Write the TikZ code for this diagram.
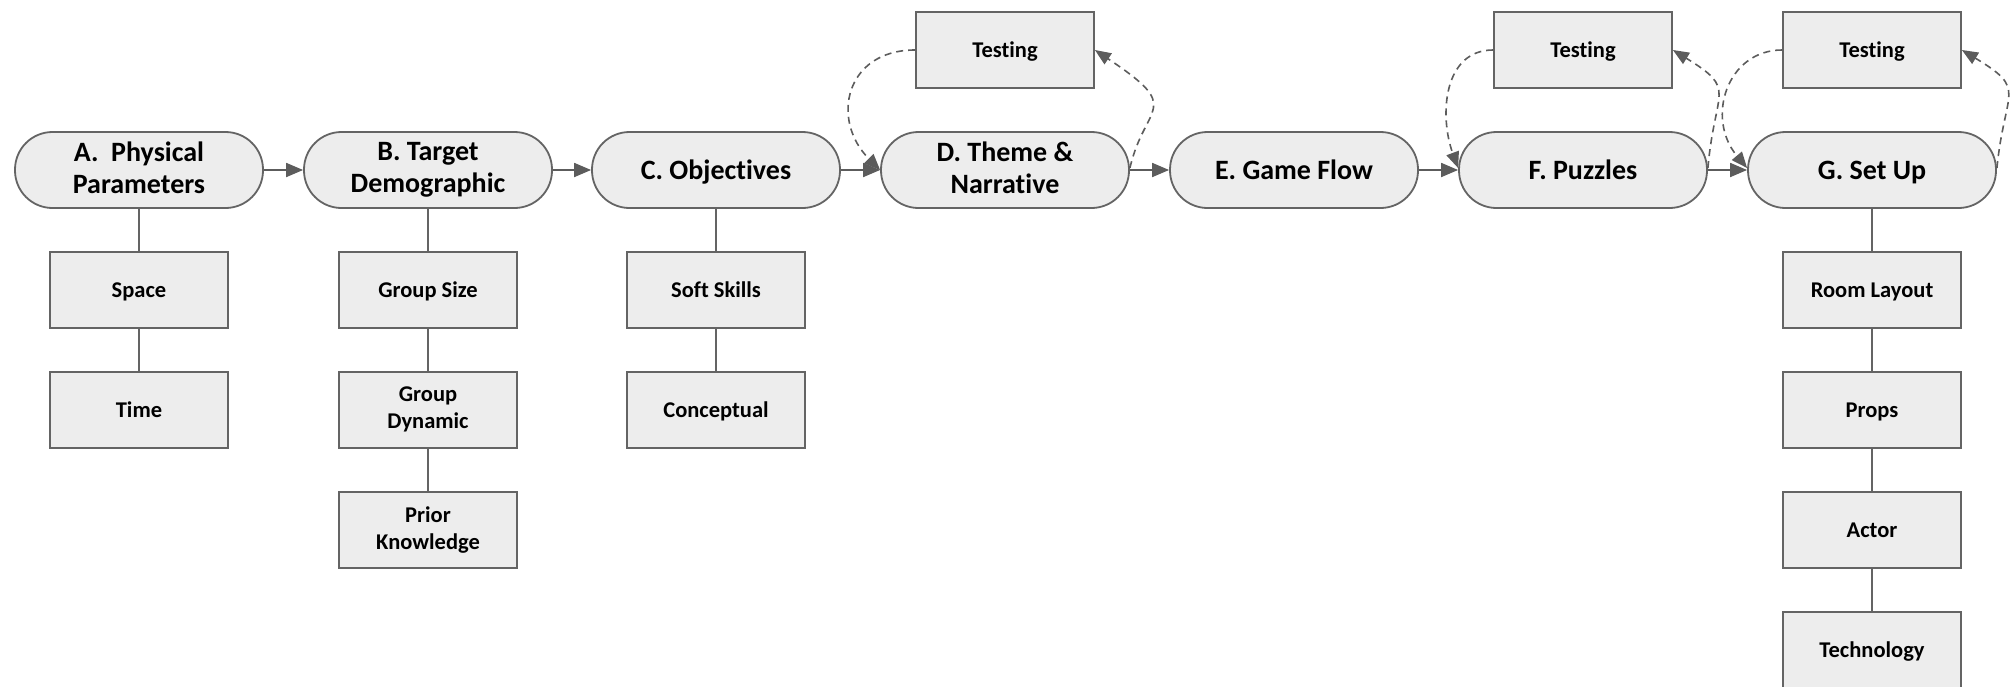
\documentclass[tikz,border=0pt]{standalone}
\usepackage{fontspec}
\setmainfont{Carlito}[Ligatures=NoCommon]
\usetikzlibrary{arrows.meta}
\definecolor{boxfill}{HTML}{EDEDED}
\definecolor{boxline}{HTML}{646464}
\definecolor{arrowline}{HTML}{5C5C5C}
% fixed line box so every label sits on the same optical centre
\newcommand\linestrut{\rule[-0.2em]{0pt}{1.1em}}
\begin{document}
\begin{tikzpicture}[x=1pt,y=1pt,
  boxtext/.style={inner sep=0pt, align=center,
    execute at begin node=\linestrut, execute at end node=\linestrut},
  stage/.style={boxtext, draw=boxline, fill=boxfill, line width=1.8pt,
    rounded corners=37.5pt, minimum width=248pt, minimum height=76pt,
    font=\bfseries\fontsize{28}{32}\selectfont},
  item/.style={boxtext, draw=boxline, fill=boxfill, line width=1.8pt,
    minimum width=178pt, minimum height=76pt,
    font=\bfseries\fontsize{22.5}{27}\selectfont},
  flow/.style={draw=arrowline, line width=1.8pt,
    -{Triangle[length=17pt,width=14pt]}},
  link/.style={draw=boxline, line width=1.8pt},
  loop/.style={draw=arrowline, line width=1.6pt, dash pattern=on 7pt off 5pt,
    -{Triangle[length=16pt,width=13pt]}}]
\useasboundingbox (0,0) rectangle (2013,-686);

% main stages
\node[stage] (A) at (139,-170) {A.\ \ Physical\\Parameters};
\node[stage] (B) at (428,-170) {B. Target\\Demographic};
\node[stage] (C) at (716,-170) {C. Objectives};
\node[stage] (D) at (1005,-170) {D. Theme \&\\Narrative};
\node[stage] (E) at (1294,-170) {E. Game Flow};
\node[stage] (F) at (1583,-170) {F. Puzzles};
\node[stage] (G) at (1872,-170) {G. Set Up};

% testing boxes
\node[item] (TD) at (1005,-50) {Testing};
\node[item] (TF) at (1583,-50) {Testing};
\node[item] (TG) at (1872,-50) {Testing};

% sub-items
\node[item] (A1) at (139,-290) {Space};
\node[item] (A2) at (139,-410) {Time};
\node[item] (B1) at (428,-290) {Group Size};
\node[item] (B2) at (428,-410) {Group\\Dynamic};
\node[item] (B3) at (428,-530) {Prior\\Knowledge};
\node[item] (C1) at (716,-290) {Soft Skills};
\node[item] (C2) at (716,-410) {Conceptual};
\node[item] (G1) at (1872,-290) {Room Layout};
\node[item] (G2) at (1872,-410) {Props};
\node[item] (G3) at (1872,-530) {Actor};
\node[item] (G4) at (1872,-650) {Technology};

% main flow
\draw[flow] (A) -- (B);
\draw[flow] (B) -- (C);
\draw[flow] (C) -- (D);
\draw[flow] (D) -- (E);
\draw[flow] (E) -- (F);
\draw[flow] (F) -- (G);

% sub-item chains
\draw[link] (A) -- (A1);
\draw[link] (A1) -- (A2);
\draw[link] (B) -- (B1);
\draw[link] (B1) -- (B2);
\draw[link] (B2) -- (B3);
\draw[link] (C) -- (C1);
\draw[link] (C1) -- (C2);
\draw[link] (G) -- (G1);
\draw[link] (G1) -- (G2);
\draw[link] (G2) -- (G3);
\draw[link] (G3) -- (G4);

% testing loops
\draw[loop] (TD.west) .. controls +(-70,0) and +(-50,50) .. (D.west);
\draw[loop] ([yshift=2pt]D.east) .. controls +(15,65) and +(90,-60) .. (TD.east);
\draw[loop] (TF.west) .. controls +(-50,0) and +(-19,52) .. ([yshift=2pt]F.west);
\draw[loop] ([yshift=2pt]F.east) .. controls +(7,80) and +(65,-40) .. (TF.east);
\draw[loop] (TG.west) .. controls +(-55,0) and +(-42,50) .. ([yshift=2pt]G.west);
\draw[loop] ([yshift=2pt]G.east) .. controls +(8,80) and +(66,-40) .. (TG.east);
\end{tikzpicture}
\end{document}
